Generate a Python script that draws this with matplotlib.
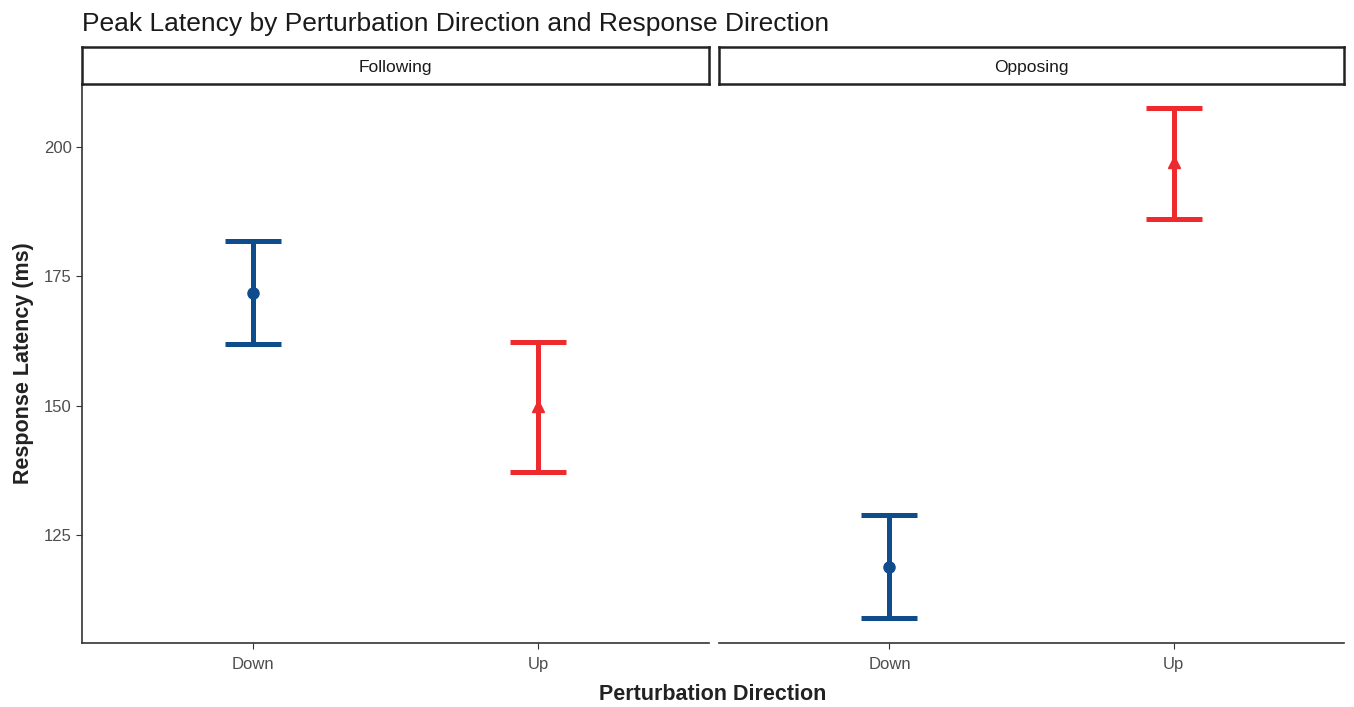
import matplotlib
matplotlib.use('Agg')
import matplotlib.pyplot as plt

plt.rcParams['font.family'] = ['Liberation Sans', 'DejaVu Sans']

# Data
panels = ['Following', 'Opposing']
directions = ['Down', 'Up']
means = {'Following': [171.8, 149.9], 'Opposing': [118.8, 197.1]}
upper = {'Following': [181.8, 162.3], 'Opposing': [128.9, 207.5]}
lower = {'Following': [161.9, 137.2], 'Opposing': [109.0, 186.1]}
colors = ['#0F4C8C', '#EE2A2E']
markers = ['o', '^']

W, H = 1354, 707
fig = plt.figure(figsize=(W / 100, H / 100), dpi=100)

panel_x = [(82, 709), (719, 1344)]
y_top, y_bot = 84, 643
strip_top = 47

for i, name in enumerate(panels):
    x0, x1 = panel_x[i]
    ax = fig.add_axes([x0 / W, 1 - y_bot / H, (x1 - x0) / W, (y_bot - y_top) / H])
    for j, d in enumerate(directions):
        m = means[name][j]
        err = [[m - lower[name][j]], [upper[name][j] - m]]
        ax.errorbar([j + 1], [m], yerr=err, color=colors[j], lw=3.6,
                    capsize=20.5, capthick=3.6, marker=markers[j], ms=8,
                    mec=colors[j], mfc=colors[j])
    ax.set_xlim(0.4, 2.6)
    ax.set_ylim(104.1, 212.2)
    ax.set_xticks([1, 2])
    ax.set_xticklabels(directions)
    ax.set_yticks([125, 150, 175, 200])
    ax.tick_params(colors='#333333', labelcolor='#4D4D4D', labelsize=12, length=4)
    ax.tick_params(axis='x', pad=6)
    for s in ['top', 'right']:
        ax.spines[s].set_visible(False)
    ax.spines['bottom'].set_color('#333333')
    ax.spines['bottom'].set_linewidth(1.2)
    if i == 0:
        ax.spines['left'].set_color('#333333')
        ax.spines['left'].set_linewidth(1.2)
        ax.set_ylabel('Response Latency (ms)', fontsize=15.5, fontweight='bold',
                      color='#222222', labelpad=7)
    else:
        ax.spines['left'].set_visible(False)
        ax.tick_params(axis='y', left=False, labelleft=False)

    # facet strip
    sax = fig.add_axes([x0 / W, 1 - y_top / H, (x1 - x0) / W, (y_top - strip_top) / H])
    sax.set_xticks([])
    sax.set_yticks([])
    for s in sax.spines.values():
        s.set_linewidth(1.8)
        s.set_color('#222222')
    sax.text(0.5, 0.45, name, ha='center', va='center', fontsize=12.5,
             color='#1A1A1A', transform=sax.transAxes)

fig.text(82 / W, 1 - 24 / H, 'Peak Latency by Perturbation Direction and Response Direction',
         fontsize=19, color='#1A1A1A', ha='left', va='center')
fig.text(713 / W, 1 - 694 / H, 'Perturbation Direction', fontsize=15.5,
         fontweight='bold', color='#222222', ha='center', va='center')

fig.savefig('out.png', dpi=100, facecolor='white')
